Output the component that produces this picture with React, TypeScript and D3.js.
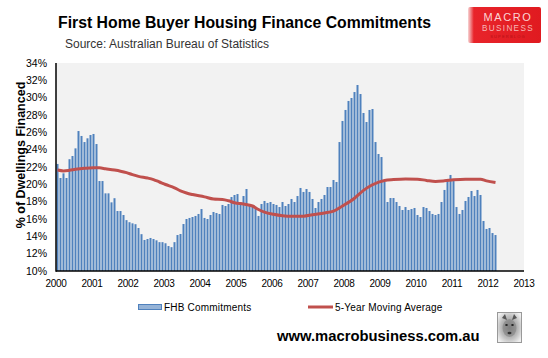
import React from 'react';
import * as d3 from 'd3';

// ---- Data ----
const xTickYears = [2000, 2001, 2002, 2003, 2004, 2005, 2006, 2007, 2008, 2009, 2010, 2011, 2012, 2013];
const yTicks = [10, 12, 14, 16, 18, 20, 22, 24, 26, 28, 30, 32, 34];

// Monthly FHB commitments (% of dwellings financed), Jan 2000 onwards
const fhbCommitments = [
  22.35, 20.73, 21.27, 20.73, 22.9, 23.27, 24.15, 26.15, 25.58, 24.88, 25.31, 25.69,
  25.81, 24.65, 20.38, 20.38, 18.96, 18.96, 17.92, 18.4, 16.92, 16.92, 16.46, 15.87,
  15.63, 15.5, 15.4, 14.96, 14.25, 13.58, 13.69, 13.81, 13.69, 13.54, 13.33, 13.33,
  13.2, 12.88, 12.75, 13.33, 14.15, 14.27, 15.42, 16.0, 16.12, 16.23, 16.35, 16.58,
  17.15, 16.12, 16.0, 16.46, 16.81, 16.69, 16.58, 17.62, 17.5, 17.73, 18.54, 18.77,
  18.88, 17.96, 18.65, 19.46, 17.5, 17.38, 17.15, 16.35, 17.73, 18.08, 17.85, 17.96,
  17.73, 17.62, 17.38, 17.96, 17.5, 17.73, 18.31, 17.96, 18.65, 19.58, 19.12, 19.46,
  19.12, 18.31, 17.27, 17.96, 18.31, 18.77, 19.69, 19.69, 20.5, 20.27, 24.88, 27.31,
  28.58, 29.62, 29.96, 30.65, 31.46, 30.42, 28.23, 27.19, 28.58, 28.69, 24.88, 23.5,
  23.15, 20.27, 17.96, 18.42, 18.42, 17.96, 17.5, 17.04, 17.38, 17.04, 17.15, 17.27,
  16.46, 16.23, 17.38, 17.27, 16.92, 16.58, 16.46, 16.58, 17.96, 19.35, 20.38, 21.08,
  20.38, 17.38, 16.58, 17.04, 18.08, 18.54, 19.23, 18.65, 19.35, 18.77, 15.77, 14.85,
  14.96, 14.38, 14.15,
];

// 5-year moving average, sampled (month index from Jan 2000, value)
const maMonths = [0, 2, 4, 6, 9, 12, 14, 16, 19, 21, 23, 25, 27, 30, 32, 34, 36, 39, 41, 43, 45, 49, 52, 55, 57, 59, 62, 65, 67, 69, 72, 75, 78, 82, 85, 89, 92, 95, 99, 102, 105, 109, 112, 116, 120, 123, 126, 129, 132, 136, 141, 143, 146];
const maValues = [21.65, 21.55, 21.62, 21.73, 21.85, 21.92, 21.9, 21.8, 21.65, 21.52, 21.35, 21.12, 20.92, 20.73, 20.55, 20.27, 19.98, 19.6, 19.25, 19.0, 18.82, 18.55, 18.3, 18.25, 18.1, 17.88, 17.72, 17.5, 17.1, 16.8, 16.55, 16.38, 16.31, 16.33, 16.5, 16.7, 16.9, 17.5, 18.4, 19.3, 19.95, 20.45, 20.55, 20.62, 20.6, 20.45, 20.33, 20.4, 20.52, 20.6, 20.6, 20.4, 20.2];

const seriesNames = ['FHB Commitments', '5-Year Moving Average'];
const titleText = 'First Home Buyer Housing Finance Commitments';
const subtitleText = 'Source: Australian Bureau of Statistics';
const yTitleText = '% of Dwellings Financed';
const footerText = 'www.macrobusiness.com.au';

const W = 548;
const H = 358;
const PL = 56, PR = 524, PT = 63, PB = 271;
const FONT = "'Liberation Sans', Arial, sans-serif";

export default function App() {
  const x = d3.scaleLinear().domain([2000, 2013]).range([PL, PR]);
  const y = d3.scaleLinear().domain([10, 34]).range([PB, PT]);
  const monthW = x(2000 + 1 / 12) - x(2000);

  const maPoints: [number, number][] = maMonths.map((m, i) => [m, maValues[i]]);
  const linePath = d3
    .line<[number, number]>()
    .x((d) => x(2000 + (d[0] + 0.5) / 12))
    .y((d) => y(d[1]))
    .curve(d3.curveMonotoneX)(maPoints) || '';

  return (
    <svg
      width={W}
      height={H}
      viewBox={`0 0 ${W} ${H}`}
      style={{ position: 'absolute', left: 0, top: 0, display: 'block', background: '#fff' }}
    >
      <defs>
        <linearGradient id="logoGrad" x1="0" y1="0" x2="1" y2="0">
          <stop offset="0" stopColor="#f7d6d6" />
          <stop offset="0.08" stopColor="#e8242a" />
          <stop offset="1" stopColor="#e01a20" />
        </linearGradient>
        <radialGradient id="wolfGrad" cx="0.5" cy="0.5" r="0.6">
          <stop offset="0" stopColor="#888" />
          <stop offset="0.6" stopColor="#bbb" />
          <stop offset="1" stopColor="#eee" />
        </radialGradient>
      </defs>

      {/* Title */}
      <text x={58} y={28} fontFamily={FONT} fontWeight="bold" fontSize={15.8} fill="#000">
        {titleText}
      </text>
      <text x={65} y={48} fontFamily={FONT} fontSize={12} fill="#333">
        {subtitleText}
      </text>

      {/* Logo */}
      <g>
        <rect x={468} y={7} width={73} height={36} fill="url(#logoGrad)" rx={2} />
        <text x={508} y={21} textAnchor="middle" fontFamily={FONT} fontSize={11} letterSpacing={1.6} fill="#fbd4d4">
          MACRO
        </text>
        <text x={508} y={31} textAnchor="middle" fontFamily={FONT} fontSize={8.2} letterSpacing={1.3} fill="#f6b8b8">
          BUSINESS
        </text>
        <text x={508} y={37.5} textAnchor="middle" fontFamily={FONT} fontSize={4} letterSpacing={1.2} fill="#b31015">
          SUPERBLOG
        </text>
      </g>

      {/* Plot background */}
      <rect x={PL} y={PT} width={PR - PL} height={PB - PT} fill="#f2f2f2" />

      {/* Bars */}
      {fhbCommitments.map((v, i) => (
        <rect
          key={i}
          x={x(2000 + i / 12) + 0.5}
          y={y(v)}
          width={monthW - 1}
          height={PB - y(v)}
          fill="#4f81bd"
        />
      ))}

      {/* Moving average line */}
      <path d={linePath} fill="none" stroke="#c0504d" strokeWidth={3} strokeLinejoin="round" />

      {/* Axes */}
      <line x1={PL} y1={PT} x2={PL} y2={PB + 0.75} stroke="#000" strokeWidth={1.5} />
      <line x1={PL} y1={PB} x2={PR} y2={PB} stroke="#000" strokeWidth={1.5} />

      {/* Y tick labels */}
      {yTicks.map((t) => (
        <text key={t} x={47} y={y(t)} dy="0.35em" textAnchor="end" fontFamily={FONT} fontSize={10.5} fill="#000">
          {t}%
        </text>
      ))}

      {/* X tick labels */}
      {xTickYears.map((yr) => (
        <text key={yr} x={x(yr)} y={287} textAnchor="middle" fontFamily={FONT} fontSize={10} letterSpacing={-0.3} fill="#000">
          {yr}
        </text>
      ))}

      {/* Y axis title */}
      <text
        transform="translate(25,155) rotate(-90)"
        textAnchor="middle"
        fontFamily={FONT}
        fontWeight="bold"
        fontSize={12.5}
        fill="#000"
      >
        {yTitleText}
      </text>

      {/* Legend */}
      <rect x={138.5} y={304.5} width={23} height={5} fill="#95b3d7" stroke="#4f81bd" strokeWidth={1} />
      <text x={164} y={311} fontFamily={FONT} fontSize={10} letterSpacing={0.2} fill="#000">
        {seriesNames[0]}
      </text>
      <line x1={308} y1={307} x2={333} y2={307} stroke="#c0504d" strokeWidth={3} />
      <text x={335} y={311} fontFamily={FONT} fontSize={10} letterSpacing={0.2} fill="#000">
        {seriesNames[1]}
      </text>

      {/* Footer */}
      <text x={277} y={341} fontFamily={FONT} fontWeight="bold" fontSize={14.8} fill="#000">
        {footerText}
      </text>

      {/* Wolf badge */}
      <g>
        <rect x={497.5} y={312.5} width={24} height={30} fill="url(#wolfGrad)" stroke="#999" strokeWidth={1} />
        <ellipse cx={509.5} cy={328} rx={7} ry={9} fill="#777" opacity={0.5} />
        <ellipse cx={506.5} cy={325} rx={1.3} ry={1} fill="#222" />
        <ellipse cx={512.5} cy={325} rx={1.3} ry={1} fill="#222" />
        <path d="M502,318 L505,314 L507,320 Z M517,318 L514,314 L512,320 Z" fill="#555" />
        <ellipse cx={509.5} cy={333} rx={2} ry={1.3} fill="#333" />
      </g>
    </svg>
  );
}
